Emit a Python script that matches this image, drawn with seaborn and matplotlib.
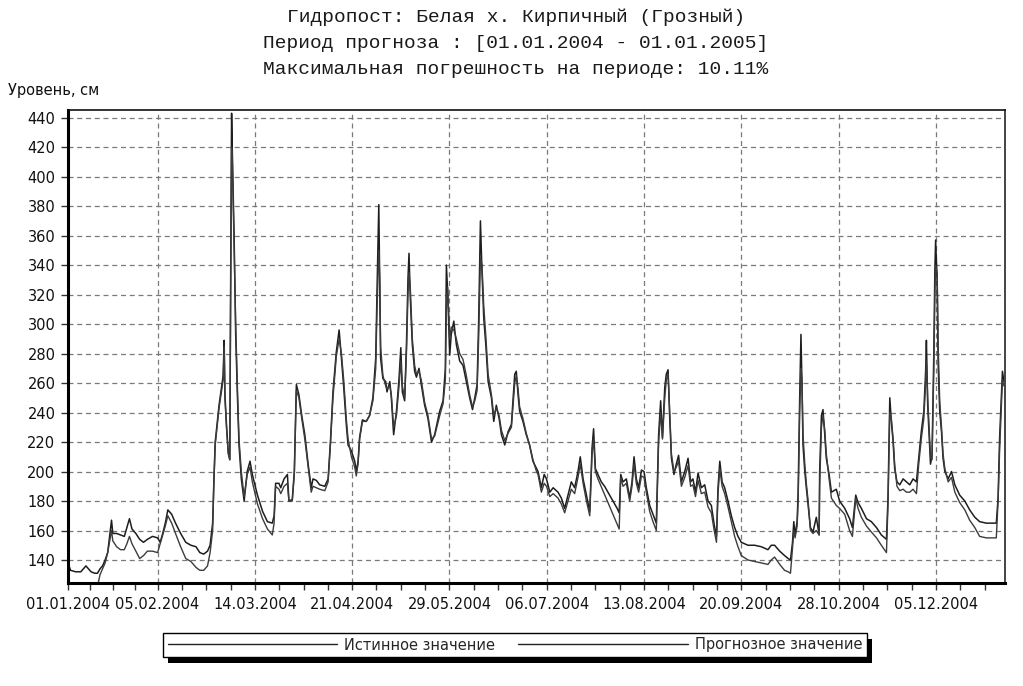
import numpy as np
import pandas as pd
import matplotlib
matplotlib.use("Agg")
import matplotlib.pyplot as plt
import matplotlib.dates as mdates
from matplotlib.patches import Rectangle
from matplotlib.transforms import IdentityTransform
from matplotlib.ticker import FixedLocator
import seaborn as sns

# ---------------- data ----------------
title_lines = [
    "Гидропост: Белая х. Кирпичный (Грозный)",
    "Период прогноза : [01.01.2004 - 01.01.2005]",
    "Максимальная погрешность на периоде: 10.11%",
]
y_label = "Уровень, см"
legend_labels = ["Истинное значение", "Прогнозное значение"]
x_tick_labels = ["01.01.2004", "05.02.2004", "14.03.2004", "21.04.2004", "29.05.2004",
                 "06.07.2004", "13.08.2004", "20.09.2004", "28.10.2004", "05.12.2004"]
y_ticks = [140, 160, 180, 200, 220, 240, 260, 280, 300, 320, 340, 360, 380, 400, 420, 440]
start_date = "01.01.2004"
end_date = "01.01.2005"

nan = np.nan
# day offset from 01.01.2004
days = [0, 1, 3, 5, 7, 9, 10.5, 11.5, 12.5, 13.5, 14.5, 15.5, 16.5, 17, 17.5, 19, 20.5, 22, 23, 24,
        25, 26.5, 28, 29.5, 31, 33, 35, 36, 37, 38, 39, 40.5, 42, 44, 46, 48, 50, 51.5, 53, 54.5,
        55.5, 56.5, 57, 57.5, 59, 60.6, 61, 61.3, 61.9, 62.6, 63.2, 63.5, 63.9, 64.2, 64.9, 65.5, 66.2, 66.8, 67.7, 68.8,
        70, 71.1, 72, 74, 76, 77.9, 79.8, 80.5, 81.1, 82.4, 83.1, 84.4, 85.7, 86.3, 87.6, 88.4, 89.2, 90.2, 91.3, 92.5,
        93.8, 95, 95.7, 97, 98.3, 100.3, 101.6, 102.5, 103.5, 104.8, 105.9, 106.8, 107.7, 108.7, 109.4, 110.7, 112, 112.6, 113.3, 113.9,
        115, 116.5, 117.8, 119.1, 120.2, 120.7, 121.4, 121.8, 122.1, 123, 124.1, 124.6, 125.7, 126.3, 127.2, 128.3, 129.3, 130, 130.6, 131.5,
        132.2, 132.8, 133.2, 133.7, 134.5, 135.4, 136.1, 137.1, 138, 139.3, 140.6, 142, 143.2, 145.2, 146.5, 147.4, 147.8, 148.3, 149.1, 149.7,
        150.7, 151.7, 153, 154.3, 155.6, 156.9, 158, 158.9, 159.8, 160.4, 161.1, 161.7, 162.4, 163.2, 164.1, 165.4, 166.3, 167.3, 168.4, 169.3,
        170.6, 171.9, 173.2, 174.5, 175.1, 175.8, 176.4, 177.7, 179, 180.3, 181.6, 183, 183.6, 184.9, 186, 186.9, 188.2, 189.5, 191.4, 192.7,
        194, 195.3, 196.6, 197.9, 199.2, 200.1, 201.2, 202.5, 203.8, 204.7, 205.3, 206, 207, 208.3, 209.6, 210.9, 212.2, 213.5, 214.5, 215.3,
        215.9, 216.8, 218.1, 219.4, 220.3, 221.1, 222, 222.9, 224, 225, 225.9, 227.2, 228.5, 229.8, 230.7, 231.5, 232.2, 233.1, 233.7, 234.4,
        235, 235.7, 236.7, 237.6, 238.5, 239.6, 240.9, 242.2, 243.2, 244.1, 245.1, 246.1, 247.4, 248.7, 250, 251.3, 252.4, 253.3, 253.9, 254.6,
        255.5, 256.5, 257.8, 259.1, 260.4, 261.7, 263, 265.6, 268.2, 270.8, 273.4, 274.7, 276, 278, 279.9, 281.3, 282.2, 283, 283.5, 284,
        284.8, 285.2, 285.8, 286.3, 286.7, 287.1, 287.8, 288.4, 289.1, 290, 291, 292.3, 293.4, 293.6, 294.3, 294.9, 295.6, 296.2, 297.3, 298.2,
        300.1, 301.4, 303.4, 305.3, 306.4, 307.7, 308.6, 309.9, 311.9, 313.8, 315.8, 317.7, 319.7, 320.3, 321, 321.6, 322.3, 322.9, 323.8, 324.9,
        326.2, 327.5, 328.8, 330.1, 331.4, 332.3, 333.3, 334.3, 335, 335.3, 335.8, 336.3, 336.9, 337.5, 338.2, 338.6, 338.9, 339.5, 339.9, 340.5,
        341.2, 341.8, 342.5, 343.8, 345.1, 346.4, 348.3, 350.3, 352.2, 354.2, 356.1, 358.7, 362.6, 363.3, 363.9, 364.6, 365, 365.6]

level_true = [138, 133, 132, 132, 136, 132, 131, 131, 134, 136, 140, 145, 160, 167, 158, 158, 157, 156, 162, 168,
              161, 158, 154, 152, 154, 156, 155, 152, 158, 165, 174, 171, 165, 158, 152, 150, 149, 145, 144, 146,
              150, 165, 195, 220, 245, 265, 289, 252, 232, 213, 208, 318, 443, 416, 358, 293, 250, 218, 195, 180,
              200, 207, 198, 184, 173, 166, 165, 170, 192, 192, 189, 195, 198, 180, 181, 200, 259, 252, 238, 225,
              205, 189, 195, 194, 191, 190, 195, 220, 254, 281, 296, 277, 257, 232, 218, 214, 207, 200, 207, 223,
              235, 234, 238, 250, 277, 322, 381, 322, 277, 263, 261, 254, 261, 250, 225, 241, 263, 284, 254, 248,
              286, 331, 348, 318, 286, 268, 264, 270, 259, 245, 236, 220, 225, 241, 248, 270, 340, 322, 279, 293,
              302, 286, 275, 272, 261, 250, 242, 250, 259, 302, 370, 336, 304, 286, 261, 250, 234, 245, 236, 225,
              218, 227, 232, 266, 268, 252, 241, 234, 225, 218, 207, 202, 200, 189, 198, 195, 186, 189, 186, 182,
              175, 184, 193, 189, 200, 210, 195, 184, 173, 216, 229, 202, 198, 193, 190, 186, 182, 178, 175, 172,
              198, 193, 195, 182, 193, 210, 195, 189, 201, 200, 189, 177, 171, 165, 225, 248, 223, 257, 266, 269,
              238, 209, 198, 205, 211, 193, 200, 209, 193, 195, 186, 199, 189, 191, 180, 177, 164, 156, 189, 207,
              193, 189, 180, 170, 162, 156, 152, 150, 150, 149, 147, 150, 150, 146, 143, 141, 140, 152, 166, 157,
              166, 186, 250, 293, 259, 218, 200, 189, 177, 162, 159, 169, 157, 200, 238, 242, 225, 209, 198, 186,
              188, 180, 175, 168, 162, 184, 179, 175, 168, 166, 162, 157, 154, 182, 250, 234, 220, 202, 193, 191,
              195, 193, 191, 195, 193, 209, 227, 241, 268, 289, 245, 227, 205, 211, 281, 336, 357, 329, 272, 241,
              227, 209, 200, 195, 200, 191, 184, 180, 174, 169, 166, 165, 165, 182, 223, 252, 268, 261]

level_forecast = [118, 118, 118, 118, 118, 118, 118, 122, 130, 134, 138, 145, 155, 160, 153, 149, 147, 147, 151, 156,
                  151, 146, 141, 143, 146, 146, 145, 151, 157, 163, 170, 165, 158, 149, 141, 139, 135, 133, 133, 136,
                  145, 160, 193, 218, 243, 262, 285, 250, 230, 212, 208, 310, 420, 410, 350, 300, 255, 222, 200, 183,
                  198, 203, 193, 178, 168, 161, 157, 165, 190, 188, 185, 190, 192, 180, 180, 198, 255, 250, 236, 222,
                  203, 186, 190, 189, 188, 187, 193, 218, 250, 278, 290, 280, 262, 236, 222, 210, 203, 197, 205, 222,
                  234, 234, 238, 248, 270, 310, 350, 330, 285, 265, 258, 256, 258, 252, 230, 238, 258, 275, 258, 250,
                  280, 320, 335, 325, 290, 272, 266, 268, 262, 247, 238, 222, 224, 238, 246, 262, 310, 325, 290, 298,
                  296, 290, 280, 276, 265, 252, 244, 248, 255, 290, 345, 340, 312, 292, 266, 252, 238, 243, 238, 228,
                  221, 226, 230, 260, 265, 256, 244, 236, 226, 218, 208, 200, 198, 186, 192, 190, 183, 185, 182, 178,
                  172, 180, 188, 185, 196, 205, 192, 180, 170, 212, 222, 200, 195, nan, nan, nan, nan, nan, nan, 161,
                  196, 190, 192, 180, 190, 205, 192, 186, 197, 196, 186, 173, 166, 160, 220, 240, 222, 250, 262, 266,
                  242, 212, 200, 203, 207, 190, 196, 204, 190, 191, 183, 194, 185, 186, 176, 172, 160, 152, 185, 202,
                  190, 185, 176, 166, 156, 149, 143, 140, 139, 138, 137, 140, 142, 137, 133, 132, 131, 148, 160, 155,
                  163, 180, 240, 270, 262, 225, 205, 192, 180, 160, 158, 160, 157, 190, 230, 238, 228, 212, 195, 182,
                  177, 175, 171, 160, 156, 182, 175, 169, 163, 159, 155, 150, 145, 178, 240, 236, 222, 205, 190, 187,
                  188, 186, 186, 188, 185, 205, 222, 236, 260, 275, 250, 232, 210, 208, 270, 320, 340, 335, 285, 248,
                  230, 212, 202, 193, 196, 186, 179, 174, 167, 162, 156, 155, 155, 180, 215, 245, 262, 258]

# ---------------- figure ----------------
sns.set_style("white")
plt.rcParams["font.family"] = ["DejaVu Sans"]

fig = plt.figure(figsize=(10.23, 6.86), dpi=100)
ax = fig.add_axes([68 / 1023, 1 - 583 / 686, (1005 - 68) / 1023, (583 - 110) / 686])

base = pd.to_datetime(start_date, format="%d.%m.%Y")
x_dates = base + pd.to_timedelta(np.array(days, dtype=float), unit="D")
df = pd.DataFrame({"date": x_dates, "true": level_true, "fcst": level_forecast})

d_true = df[["date", "true"]].dropna()
d_fcst = df[["date", "fcst"]].dropna()

sns.lineplot(data=d_true, x="date", y="true", ax=ax, color="#1e1e1e", linewidth=1.1,
             estimator=None, label=legend_labels[0])
sns.lineplot(data=d_fcst, x="date", y="fcst", ax=ax, color="#3c3c3c", linewidth=1.0,
             estimator=None, label=legend_labels[1])

# axes limits
ax.set_xlim(base, pd.to_datetime(end_date, format="%d.%m.%Y"))
ax.set_ylim(124.4, 445.2)

# ticks
tick_dates = pd.to_datetime(x_tick_labels, format="%d.%m.%Y")
tick_nums = mdates.date2num(tick_dates)
ax.xaxis.set_major_locator(FixedLocator(tick_nums))
ax.set_xticklabels(x_tick_labels)
minor = []
for a, b in zip(tick_nums[:-1], tick_nums[1:]):
    step = (b - a) / 4
    minor += [a + step * k for k in (1, 2, 3)]
step = (tick_nums[-1] - tick_nums[-2]) / 4
minor += [tick_nums[-1] + step * k for k in (1, 2, 3)]
ax.xaxis.set_minor_locator(FixedLocator(minor))
ax.set_yticks(y_ticks)

ax.tick_params(axis="both", which="major", direction="out", length=5, width=1,
               color="#333333", labelsize=10.5, labelcolor="#111111", pad=4,
               bottom=True, left=True)
ax.tick_params(axis="x", which="minor", direction="out", length=5, width=1,
               color="#333333", bottom=True)
ax.tick_params(axis="x", which="major", pad=5)

ax.set_xlabel("")
ax.set_ylabel("")

# grid
ax.set_axisbelow(True)
ax.grid(True, which="major", linestyle=(0, (4, 3)), color="#7a7a7a", linewidth=0.9)

# spines
for s in ["left", "bottom"]:
    ax.spines[s].set_linewidth(2.2)
    ax.spines[s].set_color("#000000")
ax.spines["top"].set_linewidth(1.2)
ax.spines["top"].set_color("#111111")
ax.spines["right"].set_linewidth(1.4)
ax.spines["right"].set_color("#444444")
for s in ax.spines.values():
    s.set_visible(True)

# titles
title_y = [17, 44, 69]
for txt, yy in zip(title_lines, title_y):
    fig.text(516 / 1023, 1 - yy / 686, txt, ha="center", va="center",
             family="Liberation Mono", fontsize=14, color="#1a1a1a")
fig.text(8 / 1023, 1 - 91 / 686, y_label, ha="left", va="center",
         fontsize=10.5, color="#111111")

# legend
leg = ax.legend(loc="center", bbox_to_anchor=(515 / 1023, 1 - 645 / 686),
                bbox_transform=fig.transFigure, ncol=2, fontsize=10.5,
                handlelength=11.6, handletextpad=0.5, columnspacing=1.6,
                borderpad=0.3, frameon=True, fancybox=False, shadow=False)
leg.get_frame().set_edgecolor("#000000")
leg.get_frame().set_linewidth(1.0)
leg.get_frame().set_facecolor("white")
leg.get_frame().set_alpha(1)
for h in leg.legend_handles:
    h.set_color("#222222")
    h.set_linewidth(1.0)

fig.canvas.draw()
bb = leg.get_window_extent()
shadow = Rectangle((bb.x0 + 5, bb.y0 - 6), bb.width, bb.height, transform=IdentityTransform(),
                   facecolor="black", edgecolor="none", zorder=-1)
fig.patches.append(shadow)

fig.savefig("out.png", dpi=100, facecolor="white")
